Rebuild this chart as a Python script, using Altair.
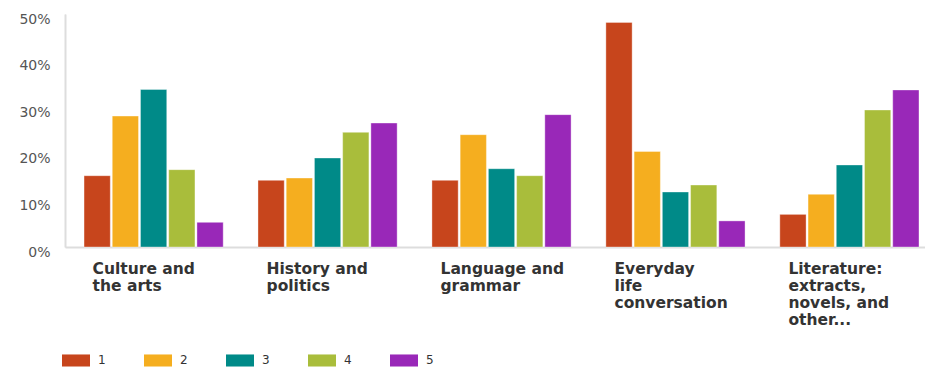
import altair as alt
import pandas as pd

categories = [
    "Culture and\nthe arts",
    "History and\npolitics",
    "Language and\ngrammar",
    "Everyday\nlife\nconversation",
    "Literature:\nextracts,\nnovels, and\nother...",
]
series = ["1", "2", "3", "4", "5"]
values = {
    "1": [15.3, 14.3, 14.3, 48.2, 7.0],
    "2": [28.1, 14.8, 24.1, 20.5, 11.3],
    "3": [33.8, 19.1, 16.8, 11.8, 17.6],
    "4": [16.6, 24.6, 15.3, 13.3, 29.4],
    "5": [5.3, 26.6, 28.4, 5.6, 33.7],
}
colors = ["#C7451C", "#F5AE1F", "#008A88", "#A9BD3B", "#9928B8"]
y_ticks = [0, 10, 20, 30, 40, 50]

rows = []
for s in series:
    for c, v in zip(categories, values[s]):
        rows.append({"category": c, "series": s, "value": v})
df = pd.DataFrame(rows)

chart = (
    alt.Chart(df)
    .mark_bar(stroke="white", strokeWidth=0.6, strokeOpacity=0.6)
    .encode(
        x=alt.X(
            "category:N",
            sort=categories,
            scale=alt.Scale(paddingInner=0.2, paddingOuter=0.072, align=0.76),
            axis=alt.Axis(
                title=None,
                labelAngle=0,
                labelAlign="left",
                labelBaseline="top",
                labelOffset=-61,
                labelPadding=14,
                labelExpr="split(datum.label, '\\n')",
                labelFont="DejaVu Sans",
                labelFontWeight="bold",
                labelFontSize=15.5,
                labelLineHeight=17,
                labelColor="#333333",
                labelLimit=300,
                ticks=False,
                domainColor="#dddddd",
                domainWidth=2,
                grid=False,
            ),
        ),
        xOffset=alt.XOffset(
            "series:N", sort=series, scale=alt.Scale(paddingInner=0.07, paddingOuter=0)
        ),
        y=alt.Y(
            "value:Q",
            scale=alt.Scale(domain=[0, 50], nice=False),
            axis=alt.Axis(
                title=None,
                values=y_ticks,
                labelExpr="datum.value + '%'",
                labelFont="DejaVu Sans",
                labelFontSize=14,
                labelColor="#555555",
                labelPadding=15,
                labelOffset=5,
                labelFlush=False,
                ticks=False,
                domainColor="#dddddd",
                domainWidth=2,
                gridColor="#ffffff",
                gridWidth=2,
            ),
        ),
        color=alt.Color(
            "series:N",
            sort=series,
            scale=alt.Scale(domain=series, range=colors),
            legend=alt.Legend(
                title=None,
                orient="none",
                legendX=-3,
                legendY=332,
                direction="horizontal",
                columns=5,
                symbolType="M-1,-0.43H1V0.43H-1Z",
                symbolSize=784,
                symbolStrokeWidth=0,
                symbolOpacity=1,
                labelFont="DejaVu Sans",
                labelFontSize=12,
                labelColor="#333333",
                labelOffset=8,
                columnPadding=38,
                padding=0,
            ),
        ),
    )
    .properties(
        width=860,
        height=233,
        padding={"left": 65, "top": 14, "right": 0, "bottom": 121},
        autosize="none",
    )
    .configure_view(fill="#F0F0F0", stroke=None)
    .configure(background="white")
)

chart.save("out.html", embed_options={"renderer": "svg", "actions": False})
